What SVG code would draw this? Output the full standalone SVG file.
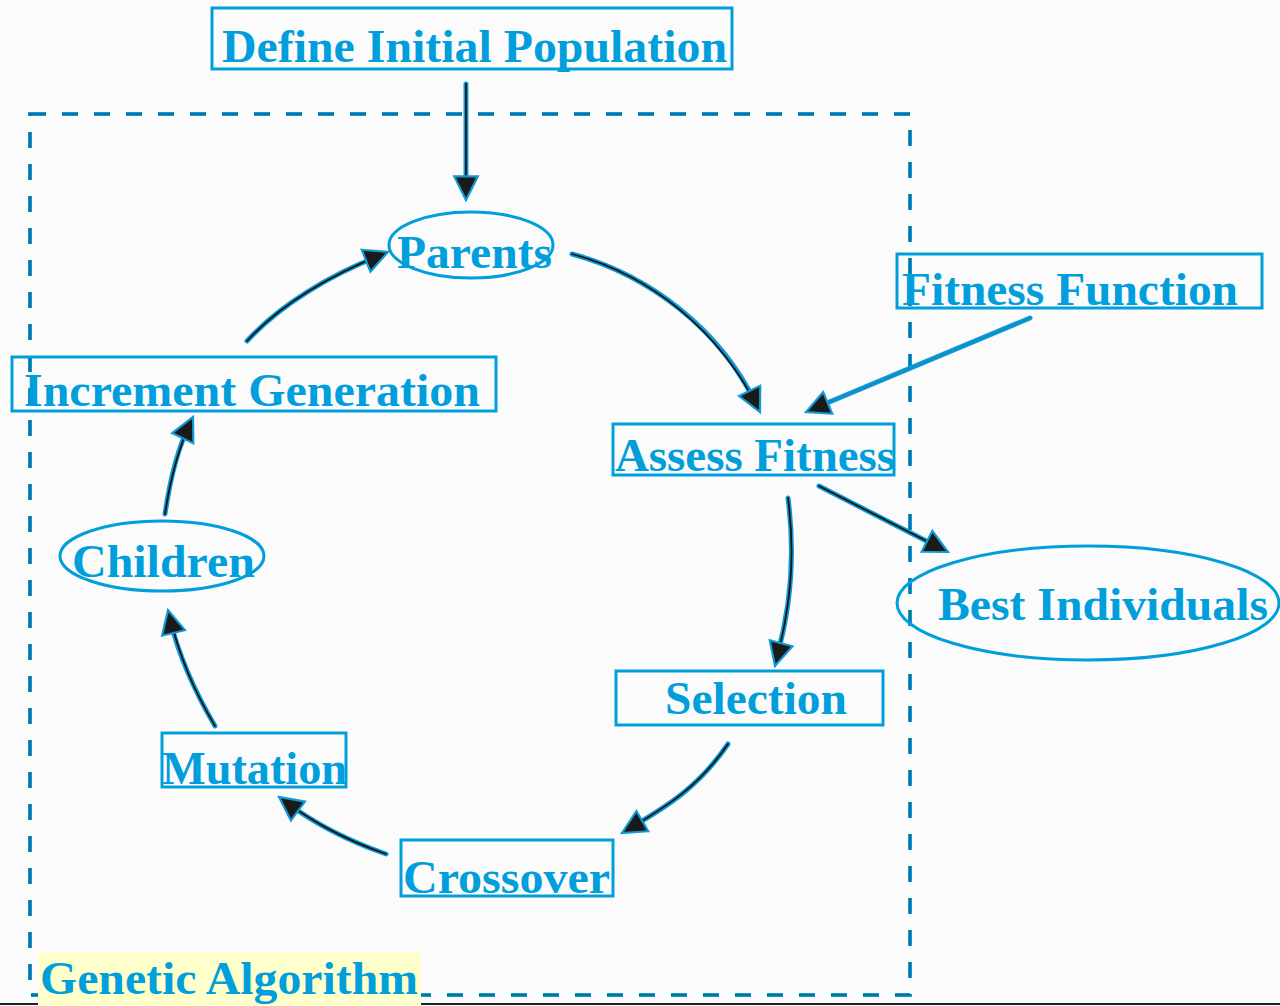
<svg xmlns="http://www.w3.org/2000/svg" width="1280" height="1006" viewBox="0 0 1280 1006">
<defs>
<style>
.box{fill:none;stroke:#009fdb;stroke-width:3}
.lbl{font-family:"Liberation Serif","Times New Roman",serif;font-weight:bold;font-size:46px;fill:#009fdb}
.halo{fill:none;stroke:#109ad4;stroke-width:5;stroke-linecap:round}
.core{fill:none;stroke:#141414;stroke-width:1.8;stroke-linecap:round}
.coreb{fill:none;stroke:#0a8fcc;stroke-width:2;stroke-linecap:round}
.dashb{fill:none;stroke:#0a9ad6;stroke-width:4;stroke-dasharray:16 16}
.dashc{fill:none;stroke:#174a66;stroke-width:1;stroke-dasharray:16 16}
</style>
<marker id="ah" markerUnits="userSpaceOnUse" markerWidth="30" markerHeight="30" viewBox="-2 -2 28 28" refX="22" refY="11" orient="auto">
<path d="M0,0 L22,11 L0,22 z" fill="#1a1a1a" stroke="#109ad4" stroke-width="2" stroke-linejoin="miter"/>
</marker>
</defs>
<rect x="0" y="0" width="1280" height="1006" fill="#fbfbfb"/>
<g id="frame">
<rect x="30" y="114" width="880" height="881" class="dashb"/>
<rect x="30" y="114" width="880" height="881" class="dashc"/>
</g>
<line x1="0" y1="1004" x2="1280" y2="1004" stroke="#222" stroke-width="2"/>
<g id="connectors">
<path class="halo" d="M466,84 L466,190"/>
<path class="core" d="M466,84 L466,200" marker-end="url(#ah)"/>
<path class="halo" d="M572,254 C650,275 720,330 755,402"/>
<path class="core" d="M572,254 C650,275 720,330 760,412" marker-end="url(#ah)"/>
<path class="halo" d="M1030,318 L815,408"/>
<path class="coreb" d="M1030,318 L806,412" marker-end="url(#ah)"/>
<path class="halo" d="M819,486 L940,548"/>
<path class="core" d="M819,486 L948,552" marker-end="url(#ah)"/>
<path class="halo" d="M788,498 C796,560 790,610 777,656"/>
<path class="core" d="M788,498 C796,560 790,610 775,666" marker-end="url(#ah)"/>
<path class="halo" d="M728,744 C700,785 670,805 630,828"/>
<path class="core" d="M728,744 C700,785 670,805 622,833" marker-end="url(#ah)"/>
<path class="halo" d="M386,854 C340,838 310,820 287,803"/>
<path class="core" d="M386,854 C340,838 310,820 279,797" marker-end="url(#ah)"/>
<path class="halo" d="M215,726 C195,692 180,660 170,620"/>
<path class="core" d="M215,726 C195,692 180,660 168,610" marker-end="url(#ah)"/>
<path class="halo" d="M165,514 C170,480 178,448 189,426"/>
<path class="core" d="M165,514 C170,480 178,448 193,417" marker-end="url(#ah)"/>
<path class="halo" d="M247,341 C280,305 330,275 379,256"/>
<path class="core" d="M247,341 C280,305 330,275 388,252" marker-end="url(#ah)"/>
</g>
<g id="define">
<rect class="box" x="212" y="8" width="520" height="61"/>
<text class="lbl" x="222" y="62" textLength="505" lengthAdjust="spacingAndGlyphs">Define Initial Population</text>
</g>
<g id="parents">
<ellipse class="box" cx="471" cy="245" rx="82" ry="33"/>
<text class="lbl" x="397" y="268" textLength="155" lengthAdjust="spacingAndGlyphs">Parents</text>
</g>
<g id="increment">
<rect class="box" x="12" y="357" width="484" height="54"/>
<text class="lbl" x="24" y="406" textLength="456" lengthAdjust="spacingAndGlyphs">Increment Generation</text>
</g>
<g id="assess">
<rect class="box" x="613" y="424" width="281" height="51"/>
<text class="lbl" x="615" y="471" textLength="280" lengthAdjust="spacingAndGlyphs">Assess Fitness</text>
</g>
<g id="fitness">
<rect class="box" x="897" y="254" width="365" height="54"/>
<text class="lbl" x="902" y="305" textLength="336" lengthAdjust="spacingAndGlyphs">Fitness Function</text>
</g>
<g id="best">
<ellipse class="box" cx="1088" cy="603" rx="191" ry="57"/>
<text class="lbl" x="938" y="620" textLength="330" lengthAdjust="spacingAndGlyphs">Best Individuals</text>
</g>
<g id="children">
<ellipse class="box" cx="162" cy="556" rx="102" ry="35"/>
<text class="lbl" x="72" y="577" textLength="183" lengthAdjust="spacingAndGlyphs">Children</text>
</g>
<g id="selection">
<rect class="box" x="616" y="671" width="267" height="54"/>
<text class="lbl" x="665" y="714" textLength="182" lengthAdjust="spacingAndGlyphs">Selection</text>
</g>
<g id="mutation">
<rect class="box" x="162" y="733" width="184" height="54"/>
<text class="lbl" x="162" y="784" textLength="185" lengthAdjust="spacingAndGlyphs">Mutation</text>
</g>
<g id="crossover">
<rect class="box" x="401" y="840" width="212" height="56"/>
<text class="lbl" x="403" y="893" textLength="207" lengthAdjust="spacingAndGlyphs">Crossover</text>
</g>
<g id="genetic">
<rect x="38" y="952" width="383" height="54" fill="#ffffcc"/>
<text class="lbl" x="40" y="994" textLength="378" lengthAdjust="spacingAndGlyphs">Genetic Algorithm</text>
</g>
</svg>
